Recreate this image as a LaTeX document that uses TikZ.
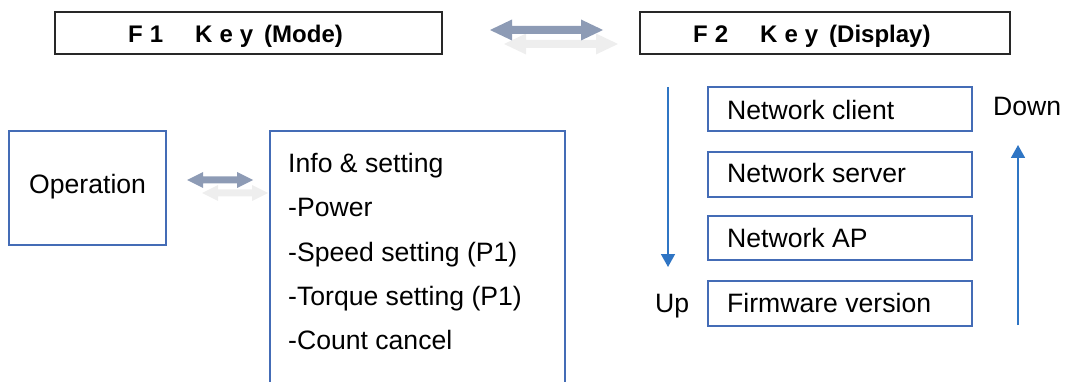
\documentclass[tikz,border=0pt]{standalone}
\usepackage{fontspec}
\setmainfont{Liberation Sans}
\usetikzlibrary{arrows.meta}
\definecolor{boxblue}{RGB}{68,108,182}
\definecolor{flowblue}{RGB}{47,117,196}
\definecolor{slate}{RGB}{141,155,181}
\definecolor{ghost}{RGB}{238,238,238}
\definecolor{titleedge}{RGB}{40,40,40}
% filled two-headed block arrow:
% #1 colour, #2 left x, #3 right x, #4 centre y, #5 shaft half height, #6 head half height, #7 head length
\newcommand\dblarrow[7]{%
  \fill[#1] (#2,#4) -- (#2+#7,#4-#6) -- (#2+#7,#4-#5) -- (#3-#7,#4-#5) -- (#3-#7,#4-#6)
    -- (#3,#4) -- (#3-#7,#4+#6) -- (#3-#7,#4+#5) -- (#2+#7,#4+#5) -- (#2+#7,#4+#6) -- cycle;}
\newcommand\keygap{\hspace{7pt}}
\begin{document}
\begin{tikzpicture}[x=1pt,y=-1pt,
  txt/.style={anchor=base west, inner sep=0pt, font=\fontsize{26.6}{30}\selectfont},
  ttl/.style={anchor=base west, inner sep=0pt, font=\fontsize{24}{28}\selectfont\bfseries},
  titlebox/.style={draw=titleedge, line width=1.6pt, inner sep=0pt},
  bluebox/.style={draw=boxblue, line width=1.3pt, inner sep=0pt},
  flow/.style={draw=flowblue, line width=1.6pt, -{Triangle[width=14pt,length=13pt]}},
]
\useasboundingbox (0,0) rectangle (1065,382);

% key title boxes
\node[titlebox, minimum width=387pt, minimum height=42pt] (f1) at (248.5,33) {};
\node[titlebox, minimum width=370pt, minimum height=42pt] (f2) at (825,33) {};
\node[ttl] (f1t) at (128,43) {F\hspace{7pt}1\hspace{32pt}K\keygap e\keygap y\hspace{11pt}(Mode)};
\node[ttl] (f2t) at (693,43) {F\hspace{7pt}2\hspace{32pt}K\keygap e\keygap y\hspace{11pt}(Display)};

% block arrow between the key boxes (soft copy behind)
\dblarrow{ghost}{504}{618}{44}{4}{10.5}{22}
\dblarrow{slate}{490}{603}{30}{4}{10.5}{22}

% mode side
\node[bluebox, minimum width=157pt, minimum height=114pt] (op) at (87.5,188) {};
\node[txt] (opt) at (29,194) {Operation};

\dblarrow{ghost}{202}{268}{193}{3.5}{8}{16}
\dblarrow{slate}{187}{253}{180}{3.5}{8}{16}

\draw[bluebox] (270,390) -- (270,131) -- (565,131) -- (565,390);
\node[txt] (i0) at (288,173) {Info \& setting};
\node[txt] (i1) at (288,217) {-Power};
\node[txt] (i2) at (288,261) {-Speed setting (P1)};
\node[txt] (i3) at (288,305) {-Torque setting (P1)};
\node[txt] (i4) at (288,349) {-Count cancel};

% display side
\node[bluebox, minimum width=264pt, minimum height=44pt] (d1) at (840,109) {};
\node[bluebox, minimum width=264pt, minimum height=45pt] (d2) at (840,174.5) {};
\node[bluebox, minimum width=264pt, minimum height=44pt] (d3) at (840,238) {};
\node[bluebox, minimum width=264pt, minimum height=45pt] (d4) at (840,303.5) {};
\node[txt] (d1t) at (727,120) {Network client};
\node[txt] (d2t) at (727,183) {Network server};
\node[txt] (d3t) at (727,247) {Network AP};
\node[txt] (d4t) at (727,312) {Firmware version};

\node[txt] (up) at (655,312) {Up};
\node[txt] (down) at (993,116) {Down};

\coordinate (dnA) at (668,87);
\coordinate (dnB) at (668,267);
\coordinate (upA) at (1018,325);
\coordinate (upB) at (1018,145);
\draw[flow] (dnA) -- (dnB);
\draw[flow] (upA) -- (upB);
\end{tikzpicture}
\end{document}
